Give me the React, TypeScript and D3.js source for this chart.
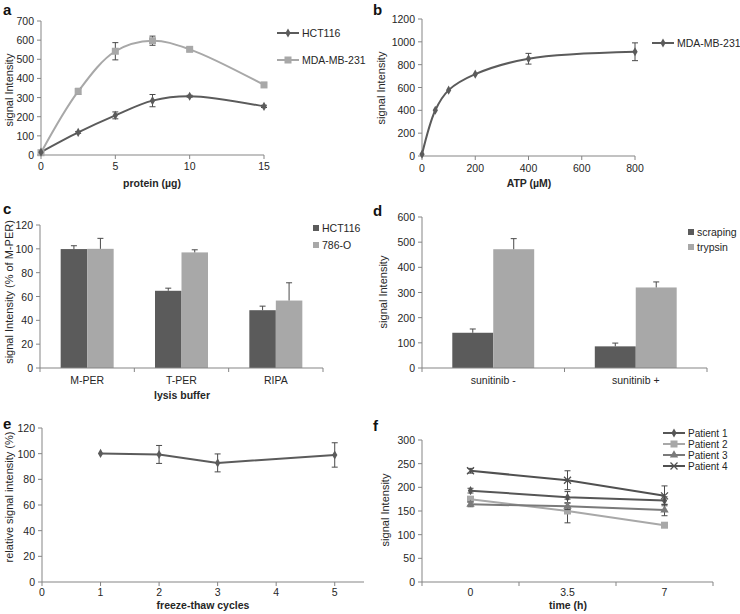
import React from 'react';
import * as d3 from 'd3';

// ---------- Data ----------
// Panel a
const aProtein = [0, 2.5, 5, 7.5, 10, 15];
const aHCT116 = [15, 118, 207, 284, 307, 254];
const aHCT116Err = [0, 5, 18, 32, 5, 6];
const aMDA = [12, 332, 542, 597, 552, 366];
const aMDAErr = [0, 16, 45, 24, 9, 13];
const aXTicks = [0, 5, 10, 15];
const aYTicks = [0, 100, 200, 300, 400, 500, 600, 700];

// Panel b
const bATP = [0, 50, 100, 200, 400, 800];
const bMDA = [15, 401, 577, 717, 852, 913];
const bMDAErr = [0, 6, 8, 8, 47, 78];
const bXTicks = [0, 200, 400, 600, 800];
const bYTicks = [0, 200, 400, 600, 800, 1000, 1200];

// Panel c
const cBuffers = ['M-PER', 'T-PER', 'RIPA'];
const cHCT116 = [99.8, 64.8, 48.5];
const cHCT116Err = [2.8, 2.2, 3.4];
const c786O = [100, 97, 56.6];
const c786OErr = [8.8, 2.2, 14.9];
const cYTicks = [0, 20, 40, 60, 80, 100, 120];

// Panel d
const dGroups = ['sunitinib -', 'sunitinib +'];
const dScraping = [140, 86];
const dScrapingErr = [15, 13];
const dTrypsin = [472, 320];
const dTrypsinErr = [42, 22];
const dYTicks = [0, 100, 200, 300, 400, 500, 600];

// Panel e
const eCycles = [1, 2, 3, 5];
const eSignal = [100.2, 99.4, 92.8, 99];
const eSignalErr = [0.5, 7, 7, 9.5];
const eXTicks = [0, 1, 2, 3, 4, 5];
const eYTicks = [0, 20, 40, 60, 80, 100, 120];

// Panel f
const fTimes = ['0', '3.5', '7'];
const fPatient1 = [193, 179, 172];
const fPatient1Err = [5, 12, 8];
const fPatient2 = [175, 150, 120];
const fPatient2Err = [3, 25, 3];
const fPatient3 = [164, 160, 152];
const fPatient3Err = [5, 7, 12];
const fPatient4 = [235, 215, 182];
const fPatient4Err = [5, 20, 21];
const fYTicks = [0, 50, 100, 150, 200, 250, 300];

// ---------- Style ----------
const FONT = "'Liberation Sans', Arial, sans-serif";
const AXIS = '#858585';
const TXT = '#262626';
const DARK = '#5b5b5b';
const LIGHT = '#a8a8a8';
const MID = '#7a7a7a';
const ERR = '#4a4a4a';

type Lin = d3.ScaleLinear<number, number>;

function YAxis({ y, x, ticks }: { y: Lin; x: number; ticks: number[] }) {
  const r = y.range();
  return (
    <g>
      <line x1={x} x2={x} y1={r[0]} y2={r[1]} stroke={AXIS} />
      {ticks.map((t) => (
        <g key={t}>
          <line x1={x - 4} x2={x} y1={y(t)} y2={y(t)} stroke={AXIS} />
          <text x={x - 7} y={y(t)} textAnchor="end" dominantBaseline="central" fontSize={10.5} fill={TXT}>
            {t}
          </text>
        </g>
      ))}
    </g>
  );
}

function XAxisLin({ x, y, ticks, labelY }: { x: Lin; y: number; ticks: number[]; labelY: number }) {
  const r = x.range();
  return (
    <g>
      <line x1={r[0]} x2={r[1]} y1={y} y2={y} stroke={AXIS} />
      {ticks.map((t) => (
        <g key={t}>
          <line x1={x(t)} x2={x(t)} y1={y} y2={y + 4} stroke={AXIS} />
          <text x={x(t)} y={labelY} textAnchor="middle" dominantBaseline="central" fontSize={10.5} fill={TXT}>
            {t}
          </text>
        </g>
      ))}
    </g>
  );
}

function XAxisBand({ x, y, labelY }: { x: d3.ScaleBand<string>; y: number; labelY: number }) {
  const r = x.range();
  const bounds = [...x.domain().map((d) => x(d) as number), r[1]];
  return (
    <g>
      <line x1={r[0]} x2={r[1]} y1={y} y2={y} stroke={AXIS} />
      {bounds.map((b, i) => (
        <line key={i} x1={b} x2={b} y1={y} y2={y + 4} stroke={AXIS} />
      ))}
      {x.domain().map((d) => (
        <text key={d} x={(x(d) as number) + x.bandwidth() / 2} y={labelY} textAnchor="middle" dominantBaseline="central" fontSize={10.5} fill={TXT}>
          {d}
        </text>
      ))}
    </g>
  );
}

function ErrBar({ x, y0, y1, cap = 3 }: { x: number; y0: number; y1: number; cap?: number }) {
  return (
    <g stroke={ERR} strokeWidth={1}>
      <line x1={x} x2={x} y1={y0} y2={y1} />
      <line x1={x - cap} x2={x + cap} y1={y0} y2={y0} />
      <line x1={x - cap} x2={x + cap} y1={y1} y2={y1} />
    </g>
  );
}

function Marker({ kind, x, y, color }: { kind: string; x: number; y: number; color: string }) {
  if (kind === 'diamond') {
    const p = d3.symbol(d3.symbolDiamond, 24)();
    return <path d={p as string} transform={`translate(${x},${y})`} fill={color} />;
  }
  if (kind === 'square') {
    return <rect x={x - 3.5} y={y - 3.5} width={7} height={7} fill={color} />;
  }
  if (kind === 'triangle') {
    const p = d3.symbol(d3.symbolTriangle, 30)();
    return <path d={p as string} transform={`translate(${x},${y})`} fill={color} />;
  }
  return (
    <path d={`M${x - 3.5},${y - 3.5}L${x + 3.5},${y + 3.5}M${x - 3.5},${y + 3.5}L${x + 3.5},${y - 3.5}`} stroke={color} strokeWidth={1.3} fill="none" />
  );
}

function YTitle({ x, y, text }: { x: number; y: number; text: string }) {
  return (
    <text transform={`translate(${x},${y}) rotate(-90)`} textAnchor="middle" dominantBaseline="central" fontSize={11} fill={TXT}>
      {text}
    </text>
  );
}

function XTitle({ x, y, text }: { x: number; y: number; text: string }) {
  return (
    <text x={x} y={y} textAnchor="middle" dominantBaseline="central" fontSize={10.5} fontWeight="bold" fill={TXT}>
      {text}
    </text>
  );
}

function PanelLabel({ x, y, text }: { x: number; y: number; text: string }) {
  return (
    <text x={x} y={y} fontSize={15} fontWeight="bold" fill="#111" dominantBaseline="central">
      {text}
    </text>
  );
}

function LineLegend({ x, y, kind, color, text, size = 10.5 }: { x: number; y: number; kind: string; color: string; text: string; size?: number }) {
  return (
    <g>
      <line x1={x} x2={x + 22} y1={y} y2={y} stroke={color} strokeWidth={2} />
      <Marker kind={kind} x={x + 11} y={y} color={color} />
      <text x={x + 25} y={y} dominantBaseline="central" fontSize={size} fill={TXT}>
        {text}
      </text>
    </g>
  );
}

function BoxLegend({ x, y, color, text }: { x: number; y: number; color: string; text: string }) {
  return (
    <g>
      <rect x={x} y={y - 3} width={6} height={6} fill={color} />
      <text x={x + 9} y={y} dominantBaseline="central" fontSize={10.5} fill={TXT}>
        {text}
      </text>
    </g>
  );
}

function PanelA() {
  const x = d3.scaleLinear().domain([0, 15]).range([41, 264]);
  const y = d3.scaleLinear().domain([0, 700]).range([155, 21]);
  const mk = (vals: number[]) =>
    d3
      .line<number>()
      .x((_, i) => x(aProtein[i]))
      .y((d) => y(d))
      .curve(d3.curveCatmullRom)(vals) as string;
  return (
    <g>
      <PanelLabel x={3} y={9} text="a" />
      <YAxis y={y} x={41} ticks={aYTicks} />
      <XAxisLin x={x} y={155} ticks={aXTicks} labelY={166} />
      <YTitle x={9} y={90} text="signal Intensity" />
      <XTitle x={152} y={183} text="protein (µg)" />
      <path d={mk(aMDA)} fill="none" stroke={LIGHT} strokeWidth={2} />
      <path d={mk(aHCT116)} fill="none" stroke={DARK} strokeWidth={2} />
      {aMDA.map((v, i) =>
        aMDAErr[i] > 0 ? <ErrBar key={'me' + i} x={x(aProtein[i])} y0={y(v - aMDAErr[i])} y1={y(v + aMDAErr[i])} /> : null
      )}
      {aHCT116.map((v, i) =>
        aHCT116Err[i] > 0 ? <ErrBar key={'he' + i} x={x(aProtein[i])} y0={y(v - aHCT116Err[i])} y1={y(v + aHCT116Err[i])} /> : null
      )}
      {aMDA.map((v, i) => (
        <Marker key={'m' + i} kind="square" x={x(aProtein[i])} y={y(v)} color={LIGHT} />
      ))}
      {aHCT116.map((v, i) => (
        <Marker key={'h' + i} kind="diamond" x={x(aProtein[i])} y={y(v)} color={DARK} />
      ))}
      <LineLegend x={277} y={33} kind="diamond" color={DARK} text="HCT116" />
      <LineLegend x={277} y={60} kind="square" color={LIGHT} text="MDA-MB-231" />
    </g>
  );
}

function PanelB() {
  const x = d3.scaleLinear().domain([0, 800]).range([422, 635]);
  const y = d3.scaleLinear().domain([0, 1200]).range([156, 19]);
  const path = d3
    .line<number>()
    .x((_, i) => x(bATP[i]))
    .y((d) => y(d))
    .curve(d3.curveCatmullRom)(bMDA) as string;
  return (
    <g>
      <PanelLabel x={373} y={9} text="b" />
      <YAxis y={y} x={422} ticks={bYTicks} />
      <XAxisLin x={x} y={156} ticks={bXTicks} labelY={168} />
      <YTitle x={381} y={88} text="signal Intensity" />
      <XTitle x={529} y={183} text="ATP (µM)" />
      <path d={path} fill="none" stroke={DARK} strokeWidth={2} />
      {bMDA.map((v, i) =>
        bMDAErr[i] > 10 ? <ErrBar key={'e' + i} x={x(bATP[i])} y0={y(v - bMDAErr[i])} y1={y(v + bMDAErr[i])} /> : null
      )}
      {bMDA.map((v, i) => (
        <Marker key={'m' + i} kind="diamond" x={x(bATP[i])} y={y(v)} color={DARK} />
      ))}
      <LineLegend x={652} y={43} kind="diamond" color={DARK} text="MDA-MB-231" />
    </g>
  );
}

function PanelC() {
  const x = d3.scaleBand<string>().domain(cBuffers).range([40, 323]);
  const inner = d3.scaleBand<string>().domain(['HCT116', '786-O']).range([0, x.bandwidth()]).paddingOuter(0.78);
  const y = d3.scaleLinear().domain([0, 120]).range([368, 225]);
  const series = [
    { name: 'HCT116', vals: cHCT116, errs: cHCT116Err, color: DARK },
    { name: '786-O', vals: c786O, errs: c786OErr, color: LIGHT },
  ];
  return (
    <g>
      <PanelLabel x={3} y={208} text="c" />
      {series.map((s) =>
        cBuffers.map((c, i) => {
          const bx = (x(c) as number) + (inner(s.name) as number);
          const bw = inner.bandwidth();
          const cx = bx + bw / 2;
          return (
            <g key={s.name + c}>
              <rect x={bx} y={y(s.vals[i])} width={bw} height={y(0) - y(s.vals[i])} fill={s.color} />
              <line x1={cx} x2={cx} y1={y(s.vals[i])} y2={y(s.vals[i] + s.errs[i])} stroke={ERR} />
              <line x1={cx - 3} x2={cx + 3} y1={y(s.vals[i] + s.errs[i])} y2={y(s.vals[i] + s.errs[i])} stroke={ERR} />
            </g>
          );
        })
      )}
      <YAxis y={y} x={40} ticks={cYTicks} />
      <XAxisBand x={x} y={368} labelY={380} />
      <YTitle x={9} y={292} text="signal Intensity (% of M-PER)" />
      <XTitle x={182} y={395} text="lysis buffer" />
      <BoxLegend x={313} y={228} color={DARK} text="HCT116" />
      <BoxLegend x={313} y={245} color={LIGHT} text="786-O" />
    </g>
  );
}

function PanelD() {
  const x = d3.scaleBand<string>().domain(dGroups).range([422, 707]);
  const inner = d3.scaleBand<string>().domain(['scraping', 'trypsin']).range([0, x.bandwidth()]).paddingOuter(0.74);
  const y = d3.scaleLinear().domain([0, 600]).range([368, 217]);
  const series = [
    { name: 'scraping', vals: dScraping, errs: dScrapingErr, color: DARK },
    { name: 'trypsin', vals: dTrypsin, errs: dTrypsinErr, color: LIGHT },
  ];
  return (
    <g>
      <PanelLabel x={373} y={210} text="d" />
      {series.map((s) =>
        dGroups.map((c, i) => {
          const bx = (x(c) as number) + (inner(s.name) as number);
          const bw = inner.bandwidth();
          const cx = bx + bw / 2;
          return (
            <g key={s.name + c}>
              <rect x={bx} y={y(s.vals[i])} width={bw} height={y(0) - y(s.vals[i])} fill={s.color} />
              <line x1={cx} x2={cx} y1={y(s.vals[i])} y2={y(s.vals[i] + s.errs[i])} stroke={ERR} />
              <line x1={cx - 3} x2={cx + 3} y1={y(s.vals[i] + s.errs[i])} y2={y(s.vals[i] + s.errs[i])} stroke={ERR} />
            </g>
          );
        })
      )}
      <YAxis y={y} x={422} ticks={dYTicks} />
      <XAxisBand x={x} y={368} labelY={380} />
      <YTitle x={383} y={292} text="signal Intensity" />
      <BoxLegend x={688} y={232} color={DARK} text="scraping" />
      <BoxLegend x={688} y={247} color={LIGHT} text="trypsin" />
    </g>
  );
}

function PanelE() {
  const x = d3.scaleLinear().domain([0, 5.5]).range([42, 364]);
  const y = d3.scaleLinear().domain([0, 120]).range([582, 428]);
  const path = d3
    .line<number>()
    .x((_, i) => x(eCycles[i]))
    .y((d) => y(d))(eSignal) as string;
  return (
    <g>
      <PanelLabel x={3} y={423} text="e" />
      <YAxis y={y} x={42} ticks={eYTicks} />
      <XAxisLin x={x} y={582} ticks={eXTicks} labelY={592} />
      <YTitle x={9} y={497} text="relative signal intensity (%)" />
      <XTitle x={203} y={605} text="freeze-thaw cycles" />
      <path d={path} fill="none" stroke={DARK} strokeWidth={2} />
      {eSignal.map((v, i) =>
        eSignalErr[i] > 1 ? <ErrBar key={'e' + i} x={x(eCycles[i])} y0={y(v - eSignalErr[i])} y1={y(v + eSignalErr[i])} /> : null
      )}
      {eSignal.map((v, i) => (
        <Marker key={'m' + i} kind="diamond" x={x(eCycles[i])} y={y(v)} color={DARK} />
      ))}
    </g>
  );
}

function PanelF() {
  const x = d3.scaleBand<string>().domain(fTimes).range([422, 713]);
  const y = d3.scaleLinear().domain([0, 300]).range([582, 440]);
  const cx = (t: string) => (x(t) as number) + x.bandwidth() / 2;
  const series = [
    { name: 'Patient 1', vals: fPatient1, errs: fPatient1Err, color: '#565656', kind: 'diamond' },
    { name: 'Patient 2', vals: fPatient2, errs: fPatient2Err, color: LIGHT, kind: 'square' },
    { name: 'Patient 3', vals: fPatient3, errs: fPatient3Err, color: MID, kind: 'triangle' },
    { name: 'Patient 4', vals: fPatient4, errs: fPatient4Err, color: '#505050', kind: 'x' },
  ];
  const line = d3
    .line<number>()
    .x((_, i) => cx(fTimes[i]))
    .y((d) => y(d));
  return (
    <g>
      <PanelLabel x={373} y={425} text="f" />
      <YAxis y={y} x={422} ticks={fYTicks} />
      <XAxisBand x={x} y={582} labelY={592} />
      <YTitle x={385} y={510} text="signal Intensity" />
      <XTitle x={568} y={605} text="time (h)" />
      {series.map((s) => (
        <g key={s.name}>
          <path d={line(s.vals) as string} fill="none" stroke={s.color} strokeWidth={2} />
          {s.vals.map((v, i) =>
            s.errs[i] > 3 ? <ErrBar key={'e' + i} x={cx(fTimes[i])} y0={y(v - s.errs[i])} y1={y(v + s.errs[i])} /> : null
          )}
          {s.vals.map((v, i) => (
            <Marker key={'m' + i} kind={s.kind} x={cx(fTimes[i])} y={y(v)} color={s.color} />
          ))}
        </g>
      ))}
      {series.map((s, i) => (
        <LineLegend key={'l' + s.name} x={663} y={433 + i * 11} kind={s.kind} color={s.color} text={s.name} size={10} />
      ))}
    </g>
  );
}

export default function App() {
  return (
    <svg
      width={740}
      height={614}
      viewBox="0 0 740 614"
      style={{ position: 'absolute', left: 0, top: 0, background: '#fff' }}
      fontFamily={FONT}
    >
      <rect width={740} height={614} fill="#fff" />
      <PanelA />
      <PanelB />
      <PanelC />
      <PanelD />
      <PanelE />
      <PanelF />
    </svg>
  );
}
